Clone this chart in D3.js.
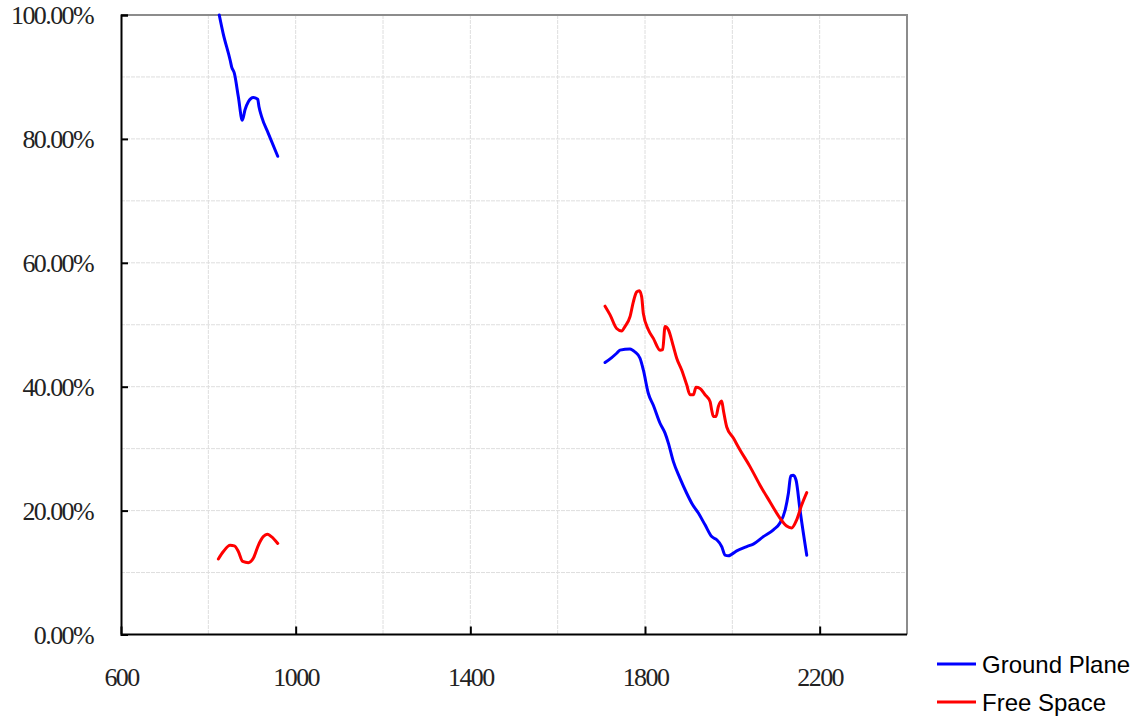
<!DOCTYPE html>
<html>
<head>
<meta charset="utf-8">
<script src="https://cdnjs.cloudflare.com/ajax/libs/d3/7.8.5/d3.min.js"></script>
<style>
  body { margin: 0; background: #fff; }
</style>
</head>
<body>
<div id="main"></div>
<script>
"use strict";

// frequency (MHz) / efficiency (%), null marks a gap between bands
var gpFreq = [825, 834, 850, 853.5, 859.5, 868.7, 877.8, 884, 891.6, 903, 913, 916, 922, 937.3, 958.9,
  null,
  1708.5, 1723.8, 1735.2, 1742.8, 1765.7, 1777.2, 1788.6, 1796.2, 1807.7, 1819.1, 1834.4, 1845.9,
  1853.5, 1865, 1880.2, 1895.5, 1907, 1922.2, 1937.5, 1952.8, 1964.2, 1975.7, 1983.3, 1990.9, 2010,
  2033, 2048, 2071, 2094, 2109, 2121, 2128.4, 2133.8, 2139.8, 2146, 2155, 2170.4];
var gpEff = [100, 97, 92.7, 91.6, 90.6, 86.8, 83.0, 84.7, 86.0, 86.7, 86.4, 85.2, 83.6, 80.9, 77.2,
  null,
  43.9, 44.7, 45.4, 45.9, 46.1, 45.6, 44.6, 42.7, 38.9, 37.0, 34.1, 32.5,
  30.9, 27.9, 25.2, 22.8, 21.2, 19.6, 17.7, 15.8, 15.3, 14.2, 12.8, 12.7, 13.5,
  14.2, 14.6, 15.8, 16.9, 18.0, 20.1, 22.8, 25.6, 25.7, 24.9, 20.1, 12.8];

var fsFreq = [823, 834.4, 850, 859.5, 868.7, 878.7, 891.6, 903, 914.5, 926, 935, 949, 959,
  null,
  1708.5, 1720, 1735, 1746.6, 1754, 1765.7, 1773.3, 1781, 1787, 1792.4, 1796.2, 1807.7, 1819.1,
  1834.4, 1840.5, 1845.9, 1853.5, 1865, 1872.6, 1884, 1895.5, 1903, 1910.7, 1916.8, 1926, 1937.5,
  1949, 1952.8, 1956.5, 1962.7, 1968, 1975.7, 1979.5, 1987.2, 2002.4, 2017.6, 2040.5, 2063.4,
  2086.3, 2109, 2124.4, 2135.8, 2147.3, 2158.8, 2170.4];
var fsEff = [12.2, 13.4, 14.4, 14.3, 13.4, 11.8, 11.6, 12.3, 14.4, 15.8, 16.2, 15.5, 14.7,
  null,
  53.0, 51.6, 49.4, 49.0, 49.7, 51.3, 53.7, 55.3, 55.5, 54.5, 51.8, 49.2, 47.8,
  45.9, 46.0, 49.7, 49.2, 46.5, 44.6, 42.7, 40.3, 38.7, 38.7, 39.9, 39.7, 38.7,
  37.6, 36.2, 35.2, 35.2, 36.8, 37.7, 36.2, 33.5, 31.7, 29.8, 27.1, 24.1,
  21.4, 18.8, 17.5, 17.2, 18.5, 20.9, 22.9];

var xTicks = [600, 1000, 1400, 1800, 2200];
var xGrid = [800, 1000, 1200, 1400, 1600, 1800, 2000, 2200];
var yTicks = [0, 20, 40, 60, 80, 100];
var yGrid = [10, 20, 30, 40, 50, 60, 70, 80, 90];

var seriesNames = ["Ground Plane", "Free Space"];
var seriesColors = ["#0000ff", "#ff0000"];

var W = 1142, H = 717;
var L = 121, R = 907, T = 15, B = 634.5;

var svg = d3.select("#main").append("svg").attr("width", W).attr("height", H);

var x = d3.scaleLinear().domain([600, 2400]).range([L, R]);
var y = d3.scaleLinear().domain([0, 100]).range([B, T]);

// grid
svg.selectAll("line.vg").data(xGrid).enter().append("line")
  .attr("x1", function(d) { return x(d); }).attr("x2", function(d) { return x(d); })
  .attr("y1", T).attr("y2", B)
  .attr("stroke", "#dedede").attr("stroke-width", 1).attr("stroke-dasharray", "4,1");
svg.selectAll("line.hg").data(yGrid).enter().append("line")
  .attr("x1", L).attr("x2", R)
  .attr("y1", function(d) { return y(d); }).attr("y2", function(d) { return y(d); })
  .attr("stroke", "#dedede").attr("stroke-width", 1).attr("stroke-dasharray", "4,1");

// top / right border
svg.append("path")
  .attr("d", "M" + L + "," + T + "H" + R + "V" + B)
  .attr("fill", "none").attr("stroke", "#8c8c8c").attr("stroke-width", 2);

// axes
var yAxis = d3.axisLeft(y).tickValues(yTicks).tickSize(-7).tickFormat(function(d) { return d.toFixed(2) + "%"; });
var xAxis = d3.axisBottom(x).tickValues(xTicks).tickSize(-8).tickFormat(d3.format("d"));

var gy = svg.append("g").attr("transform", "translate(" + L + ",0)").call(yAxis);
var gx = svg.append("g").attr("transform", "translate(0," + B + ")").call(xAxis);

[gx, gy].forEach(function(g) {
  g.select(".domain").attr("stroke", "#000").attr("stroke-width", 2);
  g.selectAll(".tick line").attr("stroke", "#000").attr("stroke-width", 2);
  g.selectAll(".tick text")
    .attr("fill", "#222")
    .attr("font-family", "'Liberation Serif', 'DejaVu Serif', serif")
    .attr("font-size", 26)
    .attr("letter-spacing", -1.6);
});
gy.selectAll(".tick text").attr("x", -28).attr("dy", "0.34em");
gx.selectAll(".tick text").attr("y", 51).attr("dy", 0);
gx.select(".domain").attr("d", "M" + L + ",0H" + R);

// lines
var line = d3.line()
  .defined(function(d) { return d[0] !== null && d[1] !== null; })
  .x(function(d) { return x(d[0]); })
  .y(function(d) { return y(d[1]); })
  .curve(d3.curveMonotoneX);

var series = [d3.zip(gpFreq, gpEff), d3.zip(fsFreq, fsEff)];
series.forEach(function(s, i) {
  svg.append("path").datum(s)
    .attr("d", line)
    .attr("fill", "none")
    .attr("stroke", seriesColors[i])
    .attr("stroke-width", 3)
    .attr("stroke-linejoin", "round")
    .attr("stroke-linecap", "round");
});

// legend
seriesNames.forEach(function(name, i) {
  var ly = 664 + i * 38;
  svg.append("line")
    .attr("x1", 937).attr("x2", 976).attr("y1", ly).attr("y2", ly)
    .attr("stroke", seriesColors[i]).attr("stroke-width", 3);
  svg.append("text")
    .attr("x", 982).attr("y", ly + 9)
    .attr("font-family", "'Liberation Sans', Arial, sans-serif")
    .attr("font-size", 24)
    .attr("fill", "#000")
    .text(name);
});
</script>
</body>
</html>
